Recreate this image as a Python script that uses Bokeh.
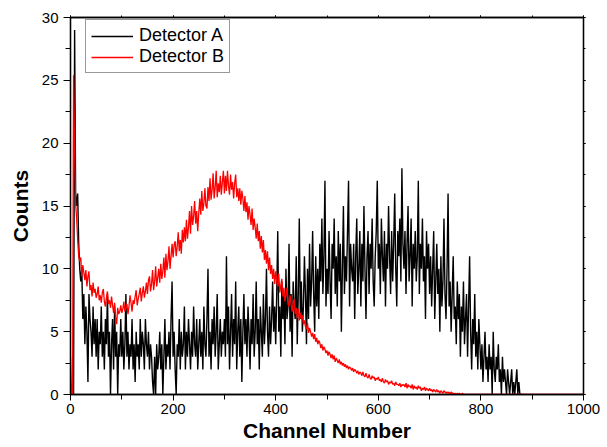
from bokeh.plotting import figure
from bokeh.models import LinearAxis, SingleIntervalTicker, Range1d, Legend, LegendItem
from bokeh.embed import file_html
from bokeh.resources import INLINE

# ---- data ----
CHANNEL_STEP = 2  # channels between successive samples

detector_a = [
    0, 0, 0, 0, 29, 16, 15, 16, 12, 10, 9, 10, 6, 8, 4, 7, 5, 1, 8, 6, 5, 3, 7, 4, 6,
    3, 6, 2, 5, 4, 7, 3, 5, 2, 6, 4, 8, 3, 5, 0, 4, 6, 2, 7, 3, 5, 0, 4, 3, 6,
    3, 5, 2, 4, 8, 3, 5, 2, 4, 3, 6, 2, 4, 1, 5, 3, 4, 2, 6, 3, 5, 4, 2, 6, 4,
    3, 5, 2, 4, 3, 1, 0, 3, 0, 4, 2, 3, 5, 2, 4, 0, 3, 6, 2, 4, 3, 5, 2, 6, 9,
    3, 5, 2, 0, 4, 3, 6, 2, 5, 3, 4, 7, 2, 5, 3, 6, 4, 2, 5, 3, 7, 4, 3, 6, 2,
    4, 6, 3, 5, 2, 7, 4, 3, 6, 10, 3, 5, 2, 6, 4, 7, 3, 5, 8, 2, 4, 6, 3, 5, 4,
    6, 3, 11, 4, 7, 2, 5, 8, 3, 6, 4, 9, 2, 5, 7, 3, 6, 1, 5, 8, 4, 6, 3, 7, 5,
    2, 6, 4, 8, 3, 5, 9, 4, 6, 2, 7, 5, 3, 8, 4, 6, 10, 5, 3, 7, 4, 6, 9, 5, 7,
    4, 8, 13, 5, 7, 3, 9, 6, 8, 4, 10, 6, 7, 12, 5, 8, 3, 9, 7, 6, 11, 4, 8, 14, 6,
    9, 5, 7, 11, 8, 4, 10, 6, 12, 7, 9, 13, 8, 5, 11, 7, 10, 6, 12, 9, 14, 8, 11, 17, 7,
    10, 8, 13, 9, 6, 12, 10, 14, 8, 11, 7, 13, 9, 12, 5, 10, 15, 8, 11, 9, 13, 17, 7, 12, 10,
    9, 12, 6, 11, 14, 8, 10, 13, 7, 12, 9, 15, 10, 6, 11, 13, 8, 12, 10, 14, 9, 7, 11, 13, 17,
    10, 12, 8, 14, 11, 9, 13, 7, 12, 10, 15, 11, 8, 13, 9, 12, 16, 10, 7, 13, 11, 14, 9, 18, 12,
    10, 13, 8, 12, 15, 9, 11, 14, 7, 12, 10, 13, 9, 11, 17, 8, 12, 10, 14, 9, 11, 6, 13, 10, 12,
    8, 11, 7, 10, 13, 6, 9, 12, 8, 10, 5, 11, 7, 9, 14, 8, 6, 10, 16, 7, 9, 5, 8, 11, 6,
    7, 4, 9, 6, 8, 3, 7, 5, 9, 4, 6, 8, 3, 7, 11, 5, 2, 6, 4, 8, 3, 5, 2, 6, 4,
    2, 4, 1, 3, 5, 2, 3, 1, 4, 2, 3, 0, 5, 2, 1, 3, 2, 4, 1, 2, 0, 3, 1, 2, 1,
    0, 2, 1, 0, 1, 2, 0, 1, 0, 1, 2, 0, 1, 0, 0, 0,
]

detector_b = [
    3.0, 0, 0, 25.4, 19.5, 15.2, 14.0, 12.3, 11.0, 10.6, 10.9, 9.4, 10.3, 9.7, 9.1, 9.9, 8.6, 9.4, 9.8, 8.3, 8.7, 7.8, 8.9, 8.1, 8.4,
    7.7, 8.0, 8.6, 7.5, 7.9, 7.3, 8.1, 8.4, 7.4, 7.0, 7.7, 8.2, 7.2, 7.5, 6.9, 7.8, 7.1, 6.5, 7.3, 6.1, 5.6, 6.9, 6.4, 6.6, 7.1,
    6.5, 6.8, 7.4, 6.6, 6.9, 7.2, 6.4, 7.0, 7.9, 7.3, 6.6, 7.5, 7.2, 7.8, 8.3, 7.1, 7.6, 8.0, 8.5, 7.4, 8.1, 8.6, 7.7, 8.2, 8.9,
    8.0, 9.1, 9.4, 8.2, 8.8, 9.9, 8.3, 9.0, 10.2, 8.6, 9.3, 10.0, 8.9, 10.4, 9.2, 9.8, 10.9, 9.3, 11.2, 9.9, 10.6, 11.8, 10.0, 11.0, 12.0,
    10.9, 11.9, 12.2, 11.0, 11.8, 12.9, 11.4, 12.3, 11.2, 13.1, 12.1, 13.3, 12.2, 13.9, 12.4, 13.3, 14.6, 12.8, 15.0, 13.5, 14.2, 15.4, 13.6, 14.6, 13.0,
    14.4, 15.6, 14.3, 16.2, 14.6, 15.2, 16.4, 15.0, 14.8, 16.5, 15.4, 17.2, 15.5, 16.3, 17.6, 15.6, 16.5, 17.8, 15.7, 16.8, 16.1, 17.4, 15.9, 16.9, 17.8,
    16.0, 17.4, 16.2, 17.8, 16.6, 15.9, 17.5, 16.3, 16.9, 15.6, 16.8, 17.5, 15.7, 16.4, 15.4, 16.4, 15.1, 16.2, 15.6, 14.6, 15.8, 14.5, 15.3, 13.9, 15.0,
    14.3, 13.5, 14.8, 13.1, 14.0, 13.3, 12.4, 13.6, 12.2, 13.0, 11.6, 12.6, 11.3, 12.3, 10.7, 11.5, 10.4, 11.4, 9.9, 10.9, 9.6, 10.3, 9.2, 10.0, 8.8,
    9.8, 9.0, 8.6, 9.6, 8.1, 8.7, 9.2, 7.8, 8.5, 7.4, 7.9, 8.5, 7.2, 7.0, 7.9, 7.2, 6.6, 7.3, 7.6, 6.4, 6.9, 6.1, 6.8, 5.9, 6.5,
    6.0, 6.3, 5.6, 5.9, 5.4, 5.2, 5.7, 4.9, 5.3, 5.0, 4.6, 4.9, 4.4, 4.8, 4.2, 4.5, 4.0, 4.3, 4.1, 3.7, 4.0, 3.5, 3.8, 3.6, 3.3,
    3.5, 3.1, 3.4, 3.2, 2.9, 3.2, 2.8, 3.1, 2.6, 2.9, 2.7, 2.5, 2.8, 2.4, 2.6, 2.3, 2.5, 2.2, 2.4, 2.1, 2.3, 2.0, 2.2, 2.1, 1.9,
    2.1, 1.8, 2.0, 1.9, 1.7, 1.9, 1.6, 1.8, 1.7, 1.5, 1.8, 1.5, 1.4, 1.7, 1.4, 1.3, 1.6, 1.3, 1.2, 1.5, 1.3, 1.4, 1.1, 1.3, 1.2,
    1.4, 1.1, 1.2, 1.0, 1.3, 1.0, 0.9, 1.2, 1.0, 1.1, 0.8, 1.0, 0.9, 1.1, 0.8, 0.9, 0.7, 1.0, 0.8, 0.8, 0.7, 0.9, 0.6, 0.8, 0.7,
    0.8, 0.6, 0.9, 0.5, 0.8, 0.6, 0.7, 0.5, 0.8, 0.4, 0.7, 0.5, 0.6, 0.4, 0.7, 0.5, 0.6, 0.3, 0.5, 0.4, 0.6, 0.3, 0.5, 0.4, 0.3,
    0.5, 0.3, 0.4, 0.2, 0.4, 0.3, 0.2, 0.4, 0.2, 0.3, 0.1, 0.3, 0.2, 0.1, 0.3, 0.2, 0.1, 0.2, 0.1, 0.2, 0.0, 0.2, 0.1, 0.1, 0.0,
    0.1, 0.0, 0.1, 0.0, 0.1, 0.0, 0.0, 0.1, 0.0, 0.0, 0, 0, 0, 0, 0, 0, 0, 0, 0, 0, 0, 0, 0, 0, 0,
    0, 0, 0, 0, 0, 0, 0, 0, 0, 0, 0, 0, 0, 0, 0, 0, 0, 0, 0, 0, 0, 0, 0, 0, 0,
    0, 0, 0, 0, 0, 0, 0, 0, 0, 0, 0, 0, 0, 0, 0, 0, 0, 0, 0, 0, 0, 0, 0, 0, 0,
    0, 0, 0, 0, 0, 0, 0, 0, 0, 0, 0, 0, 0, 0, 0, 0, 0, 0, 0, 0, 0, 0, 0, 0, 0,
    0, 0, 0, 0, 0, 0, 0, 0, 0, 0, 0, 0, 0, 0, 0, 0, 0, 0, 0, 0, 0, 0, 0, 0, 0,
    0,
]

series_names = ["Detector A", "Detector B"]
x_title = "Channel Number"
y_title = "Counts"

chan_a = [i * CHANNEL_STEP for i in range(len(detector_a))]
chan_b = [i * CHANNEL_STEP for i in range(len(detector_b))]

FONT = "Liberation Sans"

p = figure(width=607, height=447, output_backend="svg", toolbar_location=None,
           x_range=Range1d(0, 1000), y_range=Range1d(0, 30),
           min_border_left=70, min_border_right=24, min_border_top=17, min_border_bottom=53)
p.grid.visible = False
p.outline_line_color = "black"
p.outline_line_width = 1.3
p.background_fill_color = "white"
p.border_fill_color = "white"

ra = p.line(chan_a, detector_a, line_color="black", line_width=1.4)
rb = p.line(chan_b, detector_b, line_color="#FF0000", line_width=1.3)

def style(ax, labels=True, tick_out=6, minor_out=4):
    ax.axis_line_color = "black"
    ax.axis_line_width = 1.3
    ax.major_tick_line_color = "black"
    ax.minor_tick_line_color = "black"
    ax.major_tick_in = 0
    ax.major_tick_out = tick_out
    ax.minor_tick_in = 0
    ax.minor_tick_out = minor_out
    ax.major_label_text_font = FONT
    ax.major_label_text_font_size = "15px"
    ax.major_label_text_color = "black" if labels else None
    ax.axis_label_text_font = FONT
    ax.axis_label_text_font_size = "21px"
    ax.axis_label_text_font_style = "bold"
    ax.axis_label_text_color = "black"

xax = p.xaxis[0]
xax.ticker = SingleIntervalTicker(interval=200, num_minor_ticks=2)
xax.axis_label = x_title
style(xax, tick_out=6, minor_out=5)
xax.major_label_standoff = 3
xax.axis_label_standoff = 2

yax = p.yaxis[0]
yax.ticker = SingleIntervalTicker(interval=5, num_minor_ticks=2)
yax.axis_label = y_title
style(yax, tick_out=7, minor_out=5)
yax.major_label_standoff = 5
yax.axis_label_standoff = 7

top = LinearAxis(ticker=SingleIntervalTicker(interval=200, num_minor_ticks=2))
style(top, labels=False, tick_out=2, minor_out=2)
top.major_label_text_font_size = "0px"
top.major_label_standoff = 0
p.add_layout(top, "above")

right = LinearAxis(ticker=SingleIntervalTicker(interval=5, num_minor_ticks=2))
style(right, labels=False, tick_out=2, minor_out=2)
right.major_label_text_font_size = "0px"
right.major_label_standoff = 0
p.add_layout(right, "right")

legend = Legend(items=[LegendItem(label=series_names[0], renderers=[ra]),
                       LegendItem(label=series_names[1], renderers=[rb])],
                location=(15, 321))
legend.label_text_font = FONT
legend.label_text_font_size = "18px"
legend.label_text_color = "black"
legend.padding = 5
legend.spacing = 0
legend.margin = 0
legend.label_height = 18
legend.glyph_height = 18
legend.glyph_width = 42
legend.label_standoff = 6
legend.border_line_color = "#333333"
legend.border_line_width = 1
legend.background_fill_color = "white"
legend.background_fill_alpha = 1
p.add_layout(legend, "center")

open("out.html", "w").write(file_html(p, INLINE))
